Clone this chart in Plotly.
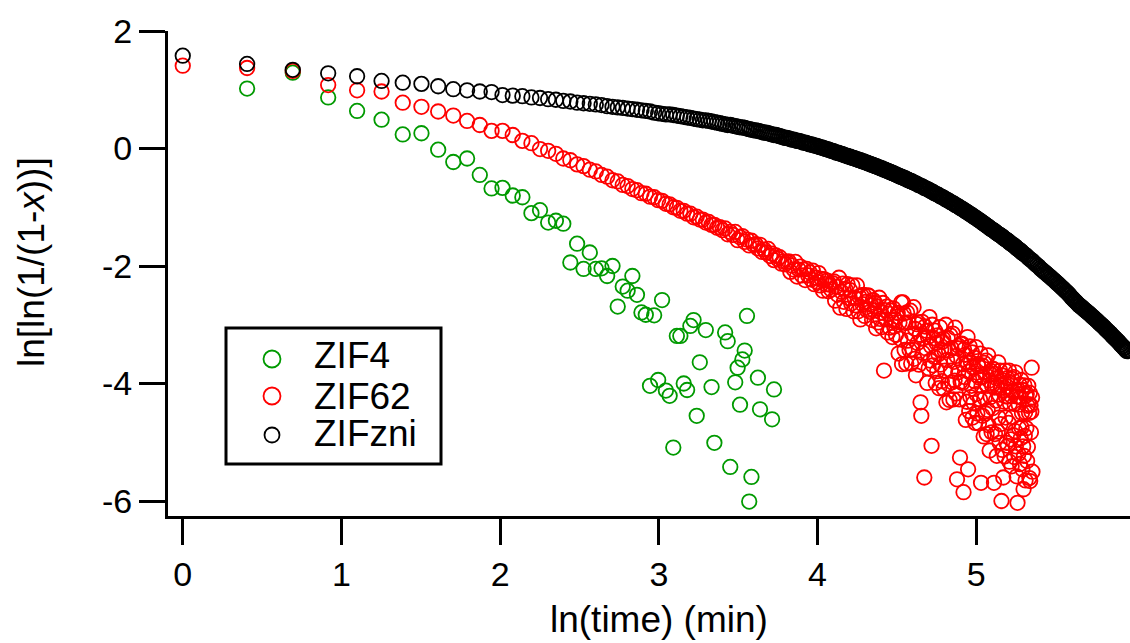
import numpy as np
import plotly.graph_objects as go

# ---------------------------------------------------------------------------
# Avrami plot data: ln[ln(1/(1-x))] against ln(time), time in minutes
# ---------------------------------------------------------------------------

# ZIF4: sampled every 0.5 min, points that fall off scale are left out
zif4_time = [1.5, 2, 2.5, 3, 3.5, 4, 4.5, 5, 5.5, 6, 6.5, 7, 7.5, 8, 8.5, 9, 9.5, 10, 10.5, 11,
             11.5, 12, 12.5, 13, 13.5, 14, 14.5, 15, 15.5, 16, 16.5, 17, 17.5, 18, 18.5, 19, 19.5, 20, 20.5, 21,
             21.5, 22, 22.5, 23, 23.5, 24, 24.5, 25, 25.5, 26,
             27, 28, 28.5, 30.5, 31, 31.5,
             32.5, 33, 33.5, 34, 34.5, 35, 35.5, 36,
             37.5, 38, 41, 41.5]
zif4_y = [1.02, 1.29, 0.87, 0.64, 0.49, 0.24, 0.26, -0.02, -0.23, -0.17,
          -0.45, -0.68, -0.67, -0.80, -0.83, -1.10, -1.05, -1.26, -1.23, -1.28,
          -1.94, -1.62, -2.05, -1.77, -2.05, -2.04, -2.17, -2.00, -2.69, -2.35,
          -2.42, -2.17, -2.49, -2.79, -2.83, -4.04, -2.84, -3.94, -2.58, -4.12,
          -4.21, -5.09, -3.19, -3.19, -4.00, -4.11, -3.02, -2.92, -4.55, -3.64,
          -3.09, -4.06, -5.01, -3.13, -3.28, -5.42,
          -3.98, -3.73, -4.36, -3.59, -3.44, -2.85, -6.01, -5.59,
          -3.90, -4.44, -4.61, -4.10]

# ZIF62: sampled every 0.5 min from 1 to 211.5 min
zif62_time = np.arange(1, 212, 0.5)
zif62_y = [
    1.41, 1.37, 1.32, 1.08, 0.99, 0.97, 0.78, 0.71, 0.63, 0.56,
    0.47, 0.40, 0.30, 0.30, 0.23, 0.13, 0.09, -0.01, -0.04,
    -0.09, -0.17, -0.20, -0.27, -0.30, -0.36, -0.39, -0.45, -0.48, -0.54,
    -0.56, -0.62, -0.64, -0.69, -0.71, -0.76, -0.77, -0.82, -0.83, -0.88,
    -0.89, -0.94, -0.95, -1.00, -1.01, -1.06, -1.06, -1.11, -1.11, -1.17,
    -1.16, -1.21, -1.21, -1.26, -1.25, -1.30, -1.30, -1.35, -1.34, -1.39,
    -1.36, -1.46, -1.42, -1.47, -1.42, -1.56, -1.51, -1.49, -1.59, -1.55,
    -1.65, -1.57, -1.64, -1.63, -1.70, -1.64, -1.76, -1.72, -1.77, -1.71,
    -1.83, -1.79, -1.90, -1.82, -1.88, -1.85, -1.96, -1.92, -1.97, -1.93,
    -1.92, -2.10, -1.99, -2.06, -1.93, -2.18, -2.06, -2.01, -2.16, -2.06,
    -2.24, -2.05, -2.16, -2.11, -2.23, -2.08, -2.31, -2.20, -2.27, -2.12,
    -2.33, -2.22, -2.42, -2.23, -2.31, -2.25, -2.43, -2.32, -2.40, -2.29,
    -2.26, -2.59, -2.35, -2.49, -2.20, -2.71, -2.44, -2.30, -2.61, -2.39,
    -2.73, -2.31, -2.55, -2.41, -2.64, -2.33, -2.77, -2.54, -2.67, -2.33,
    -2.77, -2.52, -2.91, -2.50, -2.65, -2.49, -2.85, -2.61, -2.75, -2.50,
    -2.51, -2.78, -2.66, -2.92, -2.58, -2.76, -2.63, -3.06, -2.69, -2.96,
    -2.54, -2.90, -2.79, -3.04, -2.63, -3.78, -2.75, -2.91, -2.69, -3.13,
    -2.81, -3.05, -2.76, -2.92, -3.21, -2.72, -3.03, -2.91, -3.17, -2.86,
    -2.80, -3.49, -2.96, -3.24, -2.62, -3.67, -2.62, -2.81, -3.43, -2.97,
    -3.66, -2.79, -3.27, -2.96, -3.43, -2.76, -3.66, -3.15, -3.42, -2.70,
    -3.58, -3.07, -3.86, -2.99, -3.31, -2.96, -3.68, -3.17, -4.32, -4.55,
    -2.95, -3.48, -3.23, -5.60, -3.03, -3.40, -3.10, -3.99, -3.21, -3.74,
    -2.87, -3.61, -3.36, -5.06, -3.00, -3.69, -3.23, -3.55, -3.10, -3.99,
    -3.31, -3.79, -3.18, -3.50, -4.08, -3.04, -3.68, -3.43, -3.96, -3.29,
    -3.24, -4.09, -3.44, -3.78, -3.00, -4.32, -3.60, -3.22, -4.01, -3.44,
    -4.28, -3.18, -3.78, -3.40, -3.98, -3.15, -4.27, -3.63, -3.95, -3.05,
    -4.17, -3.53, -5.63, -3.40, -3.81, -3.36, -4.27, -5.26, -3.97, -3.33,
    -3.32, -3.99, -3.67, -5.85, -3.42, -3.89, -3.51, -4.62, -3.64, -4.31,
    -3.21, -5.46, -3.80, -4.47, -3.37, -4.23, -3.64, -4.04, -3.47, -4.58,
    -3.73, -4.33, -3.56, -3.96, -4.67, -3.38, -4.18, -3.86, -4.51, -3.67,
    -3.71, -4.68, -3.90, -4.27, -3.49, -5.69, -4.04, -3.69, -4.55, -3.88,
    -4.90, -3.65, -4.25, -3.84, -4.51, -3.61, -4.86, -4.04, -4.45, -3.52,
    -4.71, -3.95, -5.14, -3.84, -4.23, -3.79, -4.83, -4.04, -4.42, -3.75,
    -3.76, -5.69, -4.07, -4.86, -3.84, -4.29, -3.91, -5.23, -4.05, -4.82,
    -3.64, -4.58, -4.19, -5.01, -3.78, -4.69, -4.03, -6.00, -3.86, -5.13,
    -4.12, -5.60, -3.95, -4.31, -5.24, -3.78, -4.58, -4.22, -5.01, -4.05,
    -3.91, -5.06, -4.22, -4.67, -3.78, -5.33, -4.34, -3.99, -4.95, -4.21,
    -5.41, -3.92, -4.57, -4.13, -4.88, -3.89, -5.25, -4.35, -4.81, -3.81,
    -5.07, -4.22, -5.58, -4.13, -6.03, -4.10, -5.20, -4.36, -4.76, -4.02,
    -5.37, -4.23, -4.93, -3.94, -4.75, -4.50, -5.46, -4.11, -5.07, -5.80,
    -5.23, -4.03, -4.89, -4.49, -5.65, -4.21, -4.76, -4.18, -5.32, -4.38,
    -5.08, -4.04, -4.35, -4.50, -5.61, -4.16, -5.66, -4.37, -4.83, -4.48,
    -3.73, -4.24, -5.50,
]

# ZIFzni: 0.5 min steps to 100 min, 1 min steps to 200 min, 2 min steps to 384 min
zifzni_time = np.concatenate([np.arange(1, 100.5, 0.5),
                              np.arange(101, 201, 1),
                              np.arange(202, 386, 2)])
zifzni_y = [
    1.58, 1.44, 1.34, 1.28, 1.23, 1.15, 1.12, 1.10, 1.06, 1.01,
    0.99, 0.97, 0.96, 0.91, 0.90, 0.89, 0.87, 0.86, 0.84,
    0.83, 0.81, 0.80, 0.78,
    0.77, 0.76, 0.75, 0.74, 0.72, 0.71, 0.70, 0.69, 0.68, 0.67,
    0.66, 0.65, 0.64, 0.63, 0.61, 0.60,
    0.59, 0.58, 0.58, 0.57, 0.56, 0.55, 0.54, 0.53, 0.52, 0.51,
    0.50, 0.49, 0.48, 0.48, 0.47, 0.46, 0.45, 0.44, 0.43, 0.42,
    0.41, 0.40, 0.40, 0.39, 0.38, 0.37, 0.36, 0.36, 0.35, 0.34,
    0.33, 0.32, 0.31, 0.31, 0.30, 0.29, 0.28, 0.27, 0.27, 0.26,
    0.25, 0.24, 0.23, 0.23, 0.22, 0.21, 0.20, 0.19, 0.18, 0.18,
    0.17, 0.16, 0.15, 0.15, 0.14, 0.13, 0.13, 0.12, 0.11, 0.10,
    0.10, 0.09, 0.08, 0.07, 0.07, 0.06, 0.05, 0.05, 0.04, 0.03,
    0.02, 0.02, 0.01, 0.00, -0.01, -0.01, -0.02, -0.03, -0.04, -0.04,
    -0.05, -0.06, -0.07, -0.07, -0.08, -0.09, -0.09, -0.10, -0.11, -0.12,
    -0.12, -0.13, -0.14, -0.14,
    -0.15, -0.16, -0.16, -0.17, -0.18, -0.18, -0.19, -0.20, -0.20, -0.21,
    -0.22, -0.22, -0.23, -0.24, -0.24, -0.25, -0.26, -0.26, -0.27, -0.28,
    -0.28, -0.29, -0.30, -0.30, -0.31, -0.32, -0.32, -0.33, -0.34, -0.34,
    -0.35, -0.36, -0.36, -0.37, -0.38, -0.38, -0.39, -0.40, -0.40, -0.41,
    -0.42, -0.42, -0.43, -0.44, -0.44, -0.45,
    -0.46, -0.46, -0.47, -0.48, -0.48, -0.49, -0.49, -0.50, -0.51, -0.51,
    -0.52, -0.53, -0.53, -0.54, -0.55, -0.55, -0.56, -0.56, -0.57, -0.58,
    # 1 min steps
    -0.59, -0.60, -0.62, -0.63, -0.64, -0.65, -0.67, -0.68, -0.69, -0.70,
    -0.72, -0.73, -0.74, -0.76, -0.77, -0.78, -0.79, -0.81, -0.82, -0.83,
    -0.84,
    -0.86, -0.87, -0.88, -0.89, -0.91, -0.92, -0.93, -0.94, -0.96, -0.97,
    -0.98, -0.99, -1.01, -1.02, -1.03, -1.04, -1.06, -1.07, -1.08, -1.09,
    -1.11, -1.12, -1.13, -1.14, -1.16, -1.17, -1.18, -1.19, -1.21, -1.22,
    -1.23, -1.24, -1.26, -1.27, -1.28, -1.29, -1.31, -1.32, -1.33, -1.34,
    -1.36, -1.37, -1.38,
    -1.39, -1.40, -1.41, -1.43, -1.44, -1.45, -1.46, -1.47, -1.48, -1.49,
    -1.50, -1.52, -1.53, -1.54, -1.55, -1.56, -1.57, -1.58, -1.60, -1.61,
    -1.62, -1.63, -1.64, -1.65, -1.66, -1.67, -1.69, -1.70, -1.71, -1.72,
    -1.73, -1.74, -1.75, -1.77, -1.78, -1.79,
    # 2 min steps
    -1.81, -1.83, -1.86, -1.88, -1.90, -1.92, -1.95, -1.97, -1.99, -2.01, -2.04,
    -2.06, -2.08, -2.10, -2.12, -2.14, -2.16, -2.18, -2.20, -2.22, -2.24,
    -2.26, -2.28, -2.30, -2.32, -2.34, -2.36, -2.38, -2.40, -2.42, -2.44,
    -2.46, -2.48, -2.50, -2.53, -2.55, -2.57, -2.59, -2.61, -2.63, -2.65,
    -2.67,
    -2.68, -2.70, -2.71, -2.73, -2.75, -2.76, -2.78, -2.79, -2.81, -2.82,
    -2.84, -2.86, -2.87, -2.89, -2.90, -2.92, -2.93, -2.95, -2.97, -2.98,
    -3.00, -3.01, -3.03, -3.04, -3.06, -3.08, -3.09, -3.11, -3.12, -3.14,
    -3.15, -3.17, -3.19, -3.20, -3.22, -3.23, -3.25, -3.26, -3.28, -3.29,
    -3.31, -3.33, -3.34, -3.36, -3.37, -3.39, -3.40, -3.42, -3.44, -3.45,
]

series_names = ["ZIF4", "ZIF62", "ZIFzni"]
series_times = [zif4_time, zif62_time, zifzni_time]
series_values = [zif4_y, zif62_y, zifzni_y]
series_colors = ["#009a00", "#ff0000", "#000000"]

x_ticks = [0, 1, 2, 3, 4, 5]
y_ticks = [-6, -4, -2, 0, 2]
y_tick_text = ["-6", "-4", "-2", "0", "2"]

for t, v in zip(series_times, series_values):
    assert len(t) == len(v), (len(t), len(v))

# ---------------------------------------------------------------------------
FONT = "Liberation Sans, Arial, Helvetica, sans-serif"
W, H = 1130, 643
PL, PR, PT, PB = 168, 1130, 31, 516   # plot area edges in pixels


def paper(px, py):
    return (px - PL) / (PR - PL), (PB - py) / (PB - PT)


fig = go.Figure()
for name, t, v, c in zip(series_names, series_times, series_values, series_colors):
    fig.add_trace(go.Scatter(
        x=np.log(np.asarray(t, dtype=float)), y=v, mode="markers", name=name,
        marker=dict(symbol="circle-open", size=14.5, color=c, line=dict(width=1.8, color=c)),
        showlegend=False,
    ))

axis_common = dict(
    showline=True, linecolor="black", linewidth=3, mirror=False,
    ticks="outside", ticklen=26, tickwidth=3, tickcolor="black",
    showgrid=False, zeroline=False,
    tickfont=dict(family=FONT, size=34, color="black"),
)
fig.update_xaxes(range=[-0.093, 5.969], tickvals=x_ticks, **axis_common)
fig.update_yaxes(range=[-6.255, 2.0], tickvals=y_ticks, ticktext=y_tick_text, **axis_common)

annotations = []
# axis titles
ax, ay = paper(659, 619)
annotations.append(dict(x=ax, y=ay, xref="paper", yref="paper", text="ln(time) (min)",
                        showarrow=False, xanchor="center", yanchor="middle",
                        font=dict(family=FONT, size=37, color="black")))
ax, ay = paper(31, 262)
annotations.append(dict(x=ax, y=ay, xref="paper", yref="paper", text="ln[ln(1/(1-<i>x</i>))]",
                        showarrow=False, xanchor="center", yanchor="middle", textangle=-90,
                        font=dict(family=FONT, size=37, color="black")))

shapes = []
# legend box
x0, y0 = paper(226, 464)
x1, y1 = paper(441, 328)
shapes.append(dict(type="rect", xref="paper", yref="paper", x0=x0, y0=y0, x1=x1, y1=y1,
                   line=dict(color="black", width=3), fillcolor="white", layer="above"))
legend_rows = [359, 396, 435]
legend_text_rows = [355, 396, 433]
legend_sizes = [17, 17, 15]
for name, c, ry, ty, d in zip(series_names, series_colors, legend_rows, legend_text_rows, legend_sizes):
    cx, cy = paper(272, ry)
    shapes.append(dict(type="circle", xref="paper", yref="paper",
                       xsizemode="pixel", ysizemode="pixel", xanchor=cx, yanchor=cy,
                       x0=-d / 2, x1=d / 2, y0=-d / 2, y1=d / 2,
                       line=dict(color=c, width=1.8), layer="above"))
    tx, tyy = paper(312, ty)
    annotations.append(dict(x=tx, y=tyy, xref="paper", yref="paper", text=name,
                            showarrow=False, xanchor="left", yanchor="middle",
                            font=dict(family=FONT, size=37, color="black")))

fig.update_layout(
    width=W, height=H,
    margin=dict(l=PL, r=W - PR, t=PT, b=H - PB, pad=0),
    paper_bgcolor="white", plot_bgcolor="white",
    showlegend=False,
    annotations=annotations, shapes=shapes,
)

fig.write_html("out.html")
